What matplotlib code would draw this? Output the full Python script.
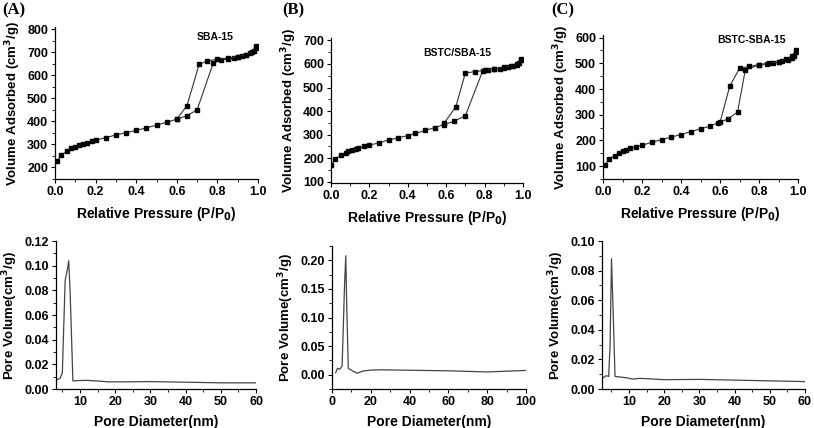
import matplotlib
matplotlib.use("Agg")
import matplotlib.pyplot as plt
from matplotlib.ticker import MultipleLocator, AutoMinorLocator, FormatStrFormatter

plt.rcParams['font.family'] = ['Liberation Sans', 'DejaVu Sans']
plt.rcParams['font.weight'] = 'bold'

# ---------------- Isotherm data ----------------
# (A) SBA-15
a_ads_p = [0.01, 0.03, 0.06, 0.08, 0.10, 0.12, 0.14, 0.16, 0.18, 0.20, 0.25, 0.30, 0.35, 0.40,
           0.45, 0.50, 0.55, 0.60, 0.65, 0.70, 0.78, 0.82, 0.85, 0.88, 0.90, 0.92, 0.94, 0.96, 0.98, 0.99]
a_ads_v = [226, 253, 272, 284, 291, 297, 303, 308, 313, 318, 330, 341, 351, 361,
           372, 384, 396, 410, 425, 450, 655, 667, 671, 675, 678, 682, 688, 695, 705, 720]
a_des_p = [0.99, 0.97, 0.94, 0.90, 0.85, 0.80, 0.75, 0.71, 0.65, 0.60]
a_des_v = [726, 700, 690, 681, 675, 670, 662, 648, 468, 410]

# (B) BSTC/SBA-15
b_ads_p = [0.00, 0.02, 0.05, 0.08, 0.09, 0.11, 0.13, 0.14, 0.17, 0.20, 0.25, 0.30, 0.35, 0.40,
           0.44, 0.49, 0.54, 0.59, 0.64, 0.70, 0.79, 0.82, 0.85, 0.88, 0.90, 0.92, 0.95, 0.97, 0.98, 0.99]
b_ads_v = [170, 196, 212, 223, 229, 235, 240, 243, 250, 255, 266, 277, 287, 296,
           305, 318, 330, 343, 356, 381, 570, 575, 578, 580, 582, 585, 590, 597, 603, 615]
b_des_p = [0.99, 0.97, 0.94, 0.90, 0.85, 0.80, 0.75, 0.70, 0.65, 0.59]
b_des_v = [620, 600, 592, 585, 579, 573, 567, 562, 418, 350]

# (C) BSTC-SBA-15
c_ads_p = [0.01, 0.03, 0.06, 0.08, 0.10, 0.12, 0.14, 0.17, 0.20, 0.25, 0.30, 0.35, 0.40, 0.45,
           0.50, 0.55, 0.59, 0.64, 0.69, 0.73, 0.80, 0.84, 0.87, 0.90, 0.92, 0.95, 0.97, 0.98, 0.99]
c_ads_v = [104, 127, 141, 151, 157, 164, 169, 176, 181, 193, 203, 213, 223, 234,
           245, 256, 269, 283, 310, 475, 493, 498, 501, 504, 507, 513, 520, 528, 545]
c_des_p = [0.99, 0.97, 0.94, 0.90, 0.85, 0.80, 0.75, 0.70, 0.65, 0.60]
c_des_v = [550, 530, 515, 506, 500, 495, 488, 480, 411, 270]

# ---------------- Pore size distributions ----------------
a_psd_d = [3.2, 4.3, 5.0, 5.5, 5.8, 6.5, 6.8, 7.2, 8.0, 9, 12, 15, 18, 22, 30, 40, 50, 60]
a_psd_v = [0.0073, 0.0085, 0.013, 0.06, 0.088, 0.098, 0.104, 0.08, 0.0065, 0.0068, 0.007,
           0.0065, 0.0058, 0.0058, 0.006, 0.0055, 0.005, 0.005]

b_psd_d = [1.9, 2.8, 4.0, 5.2, 5.8, 6.5, 7.1, 7.6, 8.4, 11, 13, 16, 20, 25, 40, 60, 80, 100]
b_psd_v = [0.0035, 0.011, 0.0095, 0.015, 0.08, 0.16, 0.208, 0.12, 0.011, 0.006, 0.0025,
           0.0065, 0.008, 0.0085, 0.0078, 0.0068, 0.0048, 0.0075]

c_psd_d = [2.1, 3.5, 4.2, 4.6, 5.0, 5.5, 6.0, 9.2, 11.1, 13, 20, 30, 40, 50, 60]
c_psd_v = [0.0067, 0.009, 0.0085, 0.03, 0.088, 0.05, 0.0085, 0.0076, 0.0067, 0.0072,
           0.0063, 0.0065, 0.006, 0.0055, 0.005]

W, H = 814, 428
fig = plt.figure(figsize=(W / 100, H / 100), dpi=100)


def axes_px(left, top, right, bottom):
    return fig.add_axes([left / W, 1 - bottom / H, (right - left) / W, (bottom - top) / H])


def style(ax):
    for s in ('top', 'right'):
        ax.spines[s].set_visible(False)
    for s in ('left', 'bottom'):
        ax.spines[s].set_linewidth(0.9)
    ax.tick_params(which='major', direction='out', length=3, width=0.8, labelsize=9, pad=2)
    ax.tick_params(which='minor', direction='out', length=2, width=0.6)
    ax.xaxis.set_minor_locator(AutoMinorLocator(2))
    ax.yaxis.set_minor_locator(AutoMinorLocator(2))
    for lab in ax.get_xticklabels() + ax.get_yticklabels():
        lab.set_fontweight('bold')


iso = [
    ((55, 27, 258, 179), a_ads_p, a_ads_v, a_des_p, a_des_v, (150, 810), 100, 'SBA-15', (0.79, 767)),
    ((331, 38, 523, 183), b_ads_p, b_ads_v, b_des_p, b_des_v, (95, 710), 100, 'BSTC/SBA-15', (0.66, 647)),
    ((603, 35, 798, 179), c_ads_p, c_ads_v, c_des_p, c_des_v, (50, 610), 100, 'BSTC-SBA-15', (0.76, 590)),
]
for box, ap, av, dp, dv, ylim, ystep, name, npos in iso:
    ax = axes_px(*box)
    ax.plot(ap, av, '-s', color='#333333', lw=0.8, ms=2.6, mfc='black', mec='black')
    ax.plot(dp, dv, '-s', color='#333333', lw=0.8, ms=2.6, mfc='black', mec='black')
    ax.set_xlim(0, 1.0)
    ax.set_ylim(*ylim)
    ax.xaxis.set_major_locator(MultipleLocator(0.2))
    ax.xaxis.set_major_formatter(FormatStrFormatter('%.1f'))
    ax.yaxis.set_major_locator(MultipleLocator(ystep))
    style(ax)
    ax.set_xlabel('Relative Pressure (P/P$_\\mathbf{0}$)', fontsize=10, fontweight='bold', labelpad=5)
    ax.set_ylabel('Volume Adsorbed (cm$^\\mathbf{3}$/g)', fontsize=9.5, fontweight='bold', labelpad=3)
    ax.text(npos[0], npos[1], name, fontsize=7.5, fontweight='bold', ha='center', va='center')

psd = [
    ((56, 241, 256, 389), a_psd_d, a_psd_v, (3.2, 60), 10, (0, 0.12), 0.02, '%.2f'),
    ((332, 246, 526, 389), b_psd_d, b_psd_v, (0, 100), 20, (-0.025, 0.225), 0.05, '%.2f'),
    ((602, 241, 805, 389), c_psd_d, c_psd_v, (2.3, 60), 10, (0, 0.10), 0.02, '%.2f'),
]
for box, d, v, xlim, xstep, ylim, ystep, fmt in psd:
    ax = axes_px(*box)
    ax.plot(d, v, '-', color='#444444', lw=0.9)
    ax.set_xlim(*xlim)
    ax.set_ylim(*ylim)
    ax.xaxis.set_major_locator(MultipleLocator(xstep))
    ax.yaxis.set_major_locator(MultipleLocator(ystep))
    ax.yaxis.set_major_formatter(FormatStrFormatter(fmt))
    style(ax)
    ax.set_xlabel('Pore Diameter(nm)', fontsize=10, fontweight='bold', labelpad=5)
    ax.set_ylabel('Pore Volume(cm$^\\mathbf{3}$/g)', fontsize=9.5, fontweight='bold', labelpad=3)

for x, lab in [(2, '(A)'), (282, '(B)'), (551, '(C)')]:
    fig.text(x / W, 1 - 10 / H, lab, fontsize=12, fontweight='bold',
             family=['Liberation Serif', 'DejaVu Serif'], ha='left', va='center')

fig.savefig('out.png', dpi=100)
